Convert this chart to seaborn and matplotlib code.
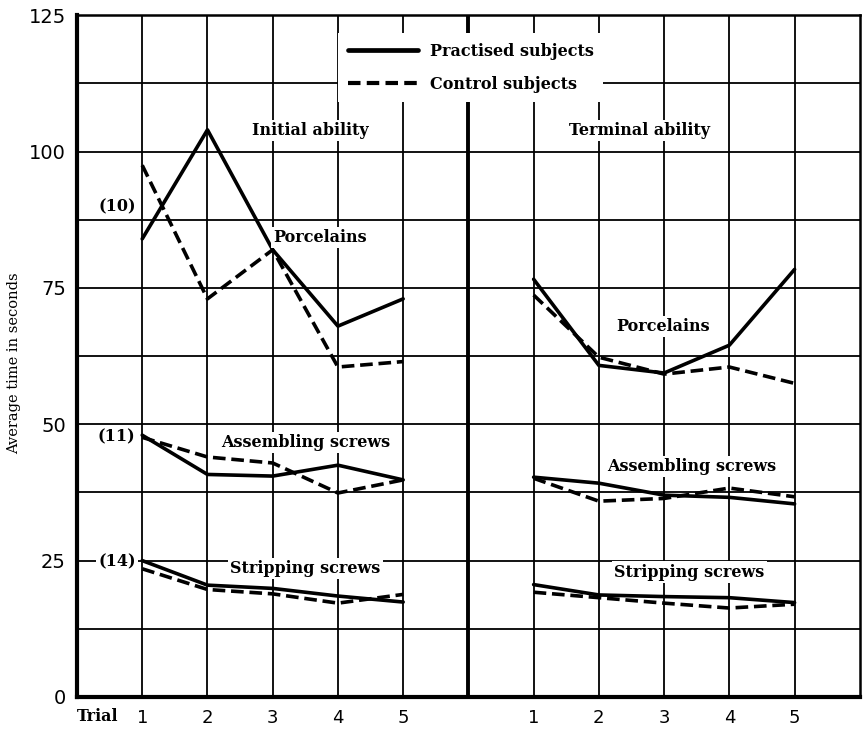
import matplotlib
matplotlib.use("Agg")
import matplotlib.pyplot as plt
from matplotlib.lines import Line2D
from matplotlib.ticker import MultipleLocator
from matplotlib.transforms import blended_transform_factory
import numpy as np
import pandas as pd
import seaborn as sns

# ---- data: average time (s) per trial --------------------------------------
trials = [1, 2, 3, 4, 5]
groups = ["Practised subjects", "Control subjects"]
tasks = ["Porcelains", "Assembling screws", "Stripping screws"]

# Initial ability
init_porc_practised = [84, 104, 82, 68, 73]
init_porc_control = [97.5, 73, 82, 60.5, 61.5]
init_asm_practised = [48, 40.8, 40.5, 42.5, 39.8]
init_asm_control = [47.6, 44, 42.9, 37.4, 39.8]
init_strip_practised = [25, 20.5, 19.9, 18.5, 17.4]
init_strip_control = [23.5, 19.7, 18.9, 17.2, 18.8]

# Terminal ability
term_porc_practised = [76.6, 60.8, 59.4, 64.5, 78.4]
term_porc_control = [73.7, 62.3, 59.2, 60.5, 57.5]
term_asm_practised = [40.3, 39.2, 37.0, 36.6, 35.4]
term_asm_control = [40.1, 35.9, 36.4, 38.3, 36.7]
term_strip_practised = [20.6, 18.7, 18.4, 18.2, 17.3]
term_strip_control = [19.2, 18.2, 17.2, 16.3, 17.0]

# number of subjects per task
group_sizes = ["(10)", "(11)", "(14)"]

series = {
    ("Initial", "Porcelains"): (init_porc_practised, init_porc_control),
    ("Initial", "Assembling screws"): (init_asm_practised, init_asm_control),
    ("Initial", "Stripping screws"): (init_strip_practised, init_strip_control),
    ("Terminal", "Porcelains"): (term_porc_practised, term_porc_control),
    ("Terminal", "Assembling screws"): (term_asm_practised, term_asm_control),
    ("Terminal", "Stripping screws"): (term_strip_practised, term_strip_control),
}
panel_offset = {"Initial": 0, "Terminal": 6}

rows = []
for (panel, task), (prac, ctrl) in series.items():
    for g, vals in zip(groups, (prac, ctrl)):
        for t, v in zip(trials, vals):
            rows.append(dict(panel=panel, task=task, group=g,
                             pos=t + panel_offset[panel], time=v))
df = pd.DataFrame(rows)

# ---- figure -----------------------------------------------------------------
sns.set_theme(style="white")
plt.rcParams["font.family"] = ["DejaVu Sans"]
plt.rcParams.update({"text.color": "black", "axes.labelcolor": "black",
                     "xtick.color": "black", "ytick.color": "black"})
serif = ["DejaVu Serif"]
FS = 11.5

fig = plt.figure(figsize=(8.65, 7.29), dpi=100)
ax = fig.add_axes([0.089, 0.044, 0.905, 0.935])

# grid
ax.set_xlim(0, 12)
ax.set_ylim(0, 125)
for xv in range(1, 12):
    ax.axvline(xv, color="black", lw=2.8 if xv == 6 else 1.3, zorder=1)
for yv in np.arange(12.5, 125, 12.5):
    ax.axhline(yv, color="black", lw=1.3, zorder=1)

dashes = {"Practised subjects": "", "Control subjects": (3.5, 1.6)}
for (panel, task), sub in df.groupby(["panel", "task"], sort=False):
    sns.lineplot(data=sub, x="pos", y="time", style="group",
                 style_order=groups, dashes=dashes, color="black",
                 lw=2.6, ax=ax, legend=False, zorder=3, sort=False)

# text labels with white backing that breaks the grid
box = dict(facecolor="white", edgecolor="none", pad=1.5)
def label(x, y, s, size=FS, ha="center"):
    ax.text(x, y, s, ha=ha, va="center", fontsize=size, fontweight="bold",
            family=serif, color="black", bbox=box, zorder=4)

label(3.57, 103.9, "Initial ability")
label(8.63, 103.9, "Terminal ability")
label(3.72, 84.3, "Porcelains")
label(8.98, 68.0, "Porcelains")
label(3.5, 46.7, "Assembling screws")
label(9.42, 42.2, "Assembling screws")
label(3.5, 23.6, "Stripping screws")
label(9.39, 22.9, "Stripping screws")
label(0.61, 89.8, group_sizes[0])
label(0.61, 47.7, group_sizes[1])
label(0.61, 24.8, group_sizes[2])

# legend
handles = [Line2D([], [], color="black", lw=3.4, ls="-"),
           Line2D([], [], color="black", lw=3.0, ls=(0, (3, 1.5)))]
leg = ax.legend(handles, groups, loc="center", bbox_to_anchor=(0.503, 0.923),
                handlelength=4.4, handletextpad=0.7, labelspacing=1.0,
                borderpad=0.6, fancybox=False, framealpha=1.0,
                labelcolor="black",
                prop=dict(family=serif, weight="bold", size=FS))
leg.get_frame().set_facecolor("white")
leg.get_frame().set_edgecolor("none")
leg.set_zorder(5)

# axes
ax.set_xticks([1, 2, 3, 4, 5, 7, 8, 9, 10, 11])
ax.set_xticklabels([str(t) for t in trials] * 2, fontsize=13)
ax.yaxis.set_major_locator(MultipleLocator(25))
ax.tick_params(axis="both", length=0, colors="black", labelcolor="black")
ax.tick_params(axis="y", labelsize=14, pad=8)
ax.tick_params(axis="x", pad=9)
ax.set_xlabel("")
ax.set_ylabel("Average time in seconds", family=serif, fontsize=10.5,
              color="black")
ax.yaxis.set_label_coords(-0.071, 0.49)
trans = blended_transform_factory(ax.transData, ax.transAxes)
ax.text(0.31, -0.029, "Trial", transform=trans, ha="center", va="center",
        fontsize=FS, fontweight="bold", family=serif, color="black")

for side, lw in {"left": 3.0, "bottom": 3.0, "top": 1.8, "right": 1.8}.items():
    ax.spines[side].set_visible(True)
    ax.spines[side].set_color("black")
    ax.spines[side].set_linewidth(lw)

fig.savefig("out.png", dpi=100, facecolor="white")
